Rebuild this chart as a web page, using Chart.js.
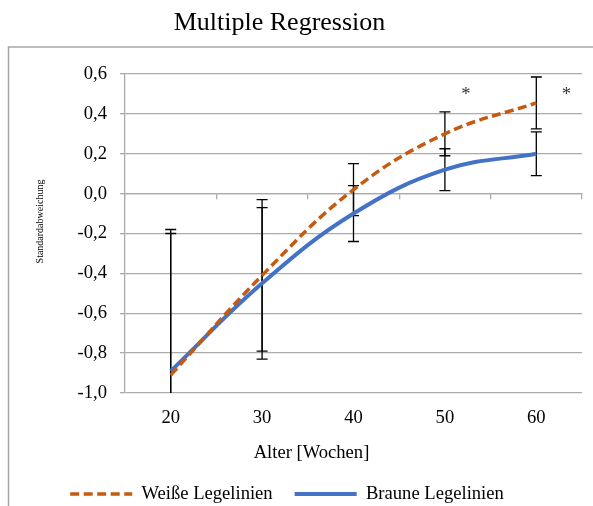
<!DOCTYPE html>
<html>
<head>
<meta charset="utf-8">
<script src="https://cdn.jsdelivr.net/npm/chart.js@4.4.0/dist/chart.umd.min.js"></script>
<style>
  html, body { margin: 0; padding: 0; background: #fff; }
  #wrap { width: 593px; height: 506px; position: relative; }
</style>
</head>
<body>
<div id="wrap"><canvas id="chart"></canvas></div>
<script>
/* Multiple Regression — Standardabweichung nach Alter, zwei Legelinien */
const WEEKS = ["20", "30", "40", "50", "60"];
const WEISS = [-0.91, -0.41, 0.02, 0.30, 0.455];
const BRAUN = [-0.89, -0.45, -0.10, 0.12, 0.20];
const WEISS_ERR = [0.73, 0.38, 0.13, 0.11, 0.13];
const BRAUN_ERR = [0.69, 0.38, 0.14, 0.105, 0.11];
const STAR_AT = [3.23, 4.33];      // category index of the "*" marks
const STAR_VAL = [0.515, 0.515];
const Y_MIN = -1.0, Y_MAX = 0.6, Y_STEP = 0.2;

const TITLE = "Multiple Regression";
const X_TITLE = "Alter [Wochen]";
const Y_TITLE = "Standardabweichung";

const ORANGE = "#C55A11", BLUE = "#4472C4", GRID = "#ababab";
const SERIF = "'Liberation Serif', 'Times New Roman', serif";
const FS = 18.6;

const comma = v => (Math.round(v * 10) / 10).toFixed(1).replace(".", ",");

const decor = {
  id: "decor",
  beforeDraw(chart) {
    const ctx = chart.ctx;
    ctx.save();
    ctx.strokeStyle = "#a6a6a6";
    ctx.lineWidth = 1.5;
    ctx.beginPath();
    ctx.moveTo(8.5, chart.height + 2);
    ctx.lineTo(8.5, 47);
    ctx.lineTo(chart.width + 2, 47);
    ctx.stroke();
    ctx.restore();
  },
  beforeDatasetsDraw(chart) {
    const ctx = chart.ctx, a = chart.chartArea;
    const xs = chart.scales.x, ys = chart.scales.y;
    ctx.save();
    ctx.beginPath();
    ctx.rect(a.left, a.top, a.right - a.left, a.bottom - a.top);
    ctx.clip();
    ctx.strokeStyle = "#000";
    ctx.lineWidth = 1.3;
    [[WEISS, WEISS_ERR], [BRAUN, BRAUN_ERR]].forEach(([vals, errs]) => {
      vals.forEach((v, i) => {
        const x = xs.getPixelForValue(i);
        const hi = ys.getPixelForValue(v + errs[i]);
        const lo = ys.getPixelForValue(v - errs[i]);
        ctx.beginPath();
        ctx.moveTo(x, hi); ctx.lineTo(x, lo);
        ctx.moveTo(x - 5.5, hi); ctx.lineTo(x + 5.5, hi);
        ctx.moveTo(x - 5.5, lo); ctx.lineTo(x + 5.5, lo);
        ctx.stroke();
      });
    });
    ctx.restore();
  },
  afterDraw(chart) {
    const ctx = chart.ctx, a = chart.chartArea;
    const xs = chart.scales.x, ys = chart.scales.y;
    const midX = (a.left + a.right) / 2, midY = (a.top + a.bottom) / 2;
    ctx.save();
    ctx.fillStyle = "#000";
    ctx.textAlign = "center";
    ctx.textBaseline = "middle";
    ctx.font = "26px " + SERIF;
    ctx.fillText(TITLE, midX - 74, 23);
    ctx.font = FS + "px " + SERIF;
    ctx.fillText(X_TITLE, midX - 42, 453);
    ctx.save();
    ctx.translate(40, midY - 12);
    ctx.rotate(-Math.PI / 2);
    ctx.font = "10px " + SERIF;
    ctx.fillText(Y_TITLE, 0, 0);
    ctx.restore();
    ctx.fillStyle = "#333";
    ctx.font = FS + "px " + SERIF;
    STAR_AT.forEach((p, i) => {
      ctx.fillText("*", xs.getPixelForValue(p), ys.getPixelForValue(STAR_VAL[i]) + 4);
    });
    ctx.restore();
  }
};

const baseLabels = Chart.defaults.plugins.legend.labels.generateLabels;

new Chart(document.getElementById("chart"), {
  type: "line",
  data: {
    labels: WEEKS,
    datasets: [
      { label: "Weiße Legelinien", data: WEISS, borderColor: ORANGE, backgroundColor: ORANGE,
        borderWidth: 3.5, borderDash: [9, 4.5], tension: 0.4, pointRadius: 0, fill: false },
      { label: "Braune Legelinien", data: BRAUN, borderColor: BLUE, backgroundColor: BLUE,
        borderWidth: 4, tension: 0.4, pointRadius: 0, fill: false }
    ]
  },
  options: {
    responsive: true, maintainAspectRatio: false, animation: false, devicePixelRatio: 1,
    layout: { padding: { top: 74, left: -8, right: 11, bottom: -7.3 } },
    plugins: {
      tooltip: { enabled: false },
      title: { display: false },
      legend: {
        position: "bottom",
        labels: {
          color: "#000", font: { family: SERIF, size: FS },
          usePointStyle: true, pointStyle: "line", pointStyleWidth: 62, padding: 22,
          generateLabels: chart => baseLabels(chart).map(item => {
            const ds = chart.data.datasets[item.datasetIndex];
            item.lineDash = ds.borderDash || [];
            item.lineWidth = ds.borderWidth;
            item.strokeStyle = ds.borderColor;
            return item;
          })
        }
      }
    },
    scales: {
      x: {
        type: "category", offset: true,
        grid: { display: false, drawTicks: false },
        border: { display: false },
        ticks: { padding: 14, color: "#000", font: { family: SERIF, size: FS }, maxRotation: 0 },
        afterFit: s => { s.height = 69.7; }
      },
      x2: {
        type: "category", axis: "x", position: { y: 0 }, offset: true,
        grid: { offset: true, drawOnChartArea: false, drawTicks: true, tickLength: 5, color: GRID, lineWidth: 1.3 },
        border: { display: true, color: GRID, width: 1.3 },
        ticks: { display: false }
      },
      y: {
        type: "linear", min: Y_MIN, max: Y_MAX,
        ticks: { stepSize: Y_STEP, padding: 13, color: "#000", font: { family: SERIF, size: FS }, callback: v => comma(v) },
        grid: { color: GRID, lineWidth: 1.3, tickLength: 5 },
        border: { display: true, color: GRID, width: 1.3 },
        afterFit: s => { s.width = 133; }
      }
    }
  },
  plugins: [decor]
});
</script>
</body>
</html>
